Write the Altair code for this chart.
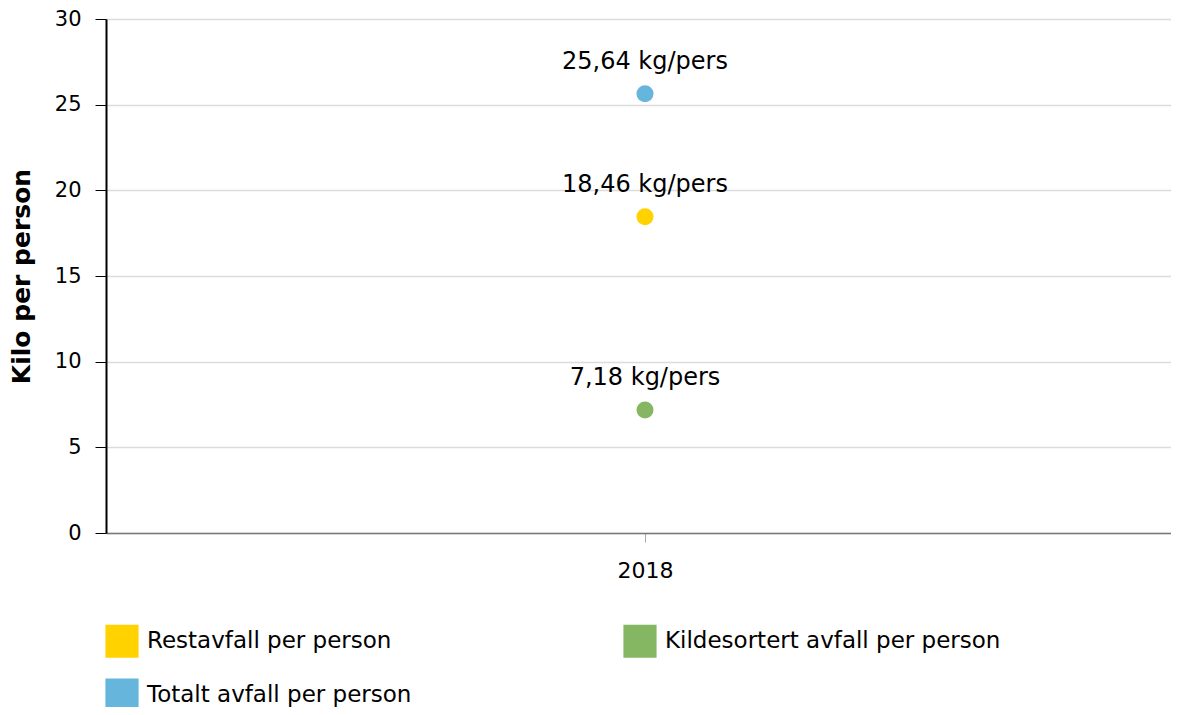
import altair as alt
import pandas as pd

years = ["2018", "2018", "2018"]
series = ["Restavfall per person", "Kildesortert avfall per person", "Totalt avfall per person"]
values = [18.46, 7.18, 25.64]
labels = ["18,46 kg/pers", "7,18 kg/pers", "25,64 kg/pers"]
colors = ["#ffd200", "#85b762", "#66b5dc"]
# legend is laid out column-major: this order gives Restavfall | Kildesortert / Totalt
legend_order = ["Restavfall per person", "Totalt avfall per person", "Kildesortert avfall per person"]
legend_colors = ["#ffd200", "#66b5dc", "#85b762"]
y_ticks = [0, 5, 10, 15, 20, 25, 30]

df = pd.DataFrame({"year": years, "series": series, "value": values, "label": labels})

FONT = "DejaVu Sans"

x_enc = alt.X("year:N", title=None,
              scale=alt.Scale(range=[0, 1078]),
              axis=alt.Axis(labelAngle=0, labelFontSize=22, labelColor="#000",
                            domainColor="#777", domainWidth=1.5, tickColor="#aaa", tickSize=9,
                            labelPadding=18, grid=False))
y_enc = alt.Y("value:Q", title="Kilo per person",
              scale=alt.Scale(domain=[0, 30], nice=False),
              axis=alt.Axis(values=y_ticks, labelFontSize=21, labelColor="#000",
                            titleFontSize=25, titleFontWeight="bold", titleColor="#000",
                            domainColor="#000", domainWidth=2, tickColor="#000",
                            tickSize=11, labelPadding=14, titlePadding=20,
                            gridColor="#dcdcdc", gridWidth=1.5))

points = alt.Chart(df).mark_point(filled=True, size=290, opacity=1).encode(
    x=x_enc,
    y=y_enc,
    color=alt.Color("series:N", scale=alt.Scale(domain=legend_order, range=legend_colors),
                    legend=alt.Legend(title=None, orient="none", legendX=-1, legendY=605,
                                      columns=2, symbolType="square", symbolSize=1100,
                                      symbolStrokeWidth=0, labelFontSize=23, labelColor="#000",
                                      labelLimit=400, columnPadding=211, rowPadding=20,
                                      symbolOffset=0, labelOffset=8)),
)

text = alt.Chart(df).mark_text(fontSize=24, dy=-32, color="#000", font=FONT).encode(
    x="year:N",
    y="value:Q",
    text="label:N",
)

chart = (points + text).properties(
    width=1065, height=514,
    autosize=alt.AutoSizeParams(type="none"),
    padding={"left": 98, "top": 11, "right": 0, "bottom": 174},
).configure(font=FONT).configure_view(stroke=None).configure_axis(labelFont=FONT, titleFont=FONT)

chart.save("out.html", embed_options={"renderer": "svg", "actions": False})
